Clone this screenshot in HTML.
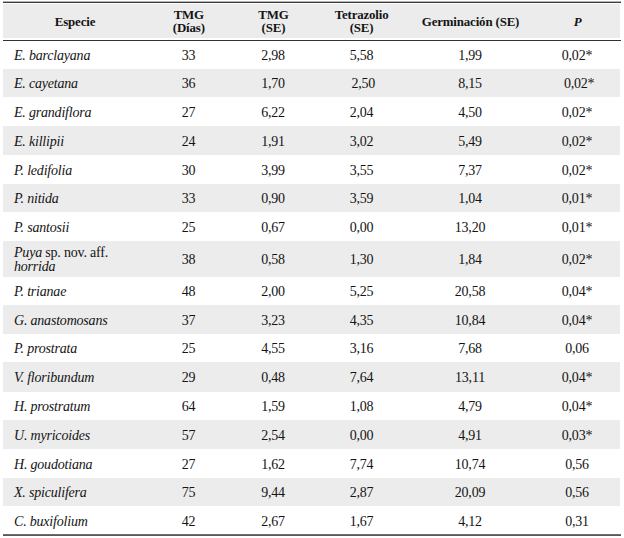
<!DOCTYPE html>
<html><head><meta charset="utf-8"><style>
html,body{margin:0;padding:0;background:#fff;width:624px;height:538px;overflow:hidden;}
body{position:relative;font-family:"Liberation Serif",serif;font-size:14px;color:#141414;}
.bg{position:absolute;background:#ececec;}
.ln{position:absolute;background:#333;}
.t{position:absolute;white-space:nowrap;line-height:15px;letter-spacing:-0.2px;font-variant-ligatures:none;}
.c{text-align:center;width:160px;}
.h{font-weight:bold;font-size:12.9px;letter-spacing:-0.15px;}
</style></head><body>

<div class="bg" style="left:3px;top:4px;width:617px;height:34px"></div>
<div class="ln" style="left:3px;top:1px;width:618px;height:1px;background:#b4b4b4"></div>
<div class="ln" style="left:3px;top:2px;width:618px;height:1px;background:#3c3c3c"></div>
<div class="ln" style="left:3px;top:40px;width:618px;height:1px"></div>
<div class="ln" style="left:3px;top:534px;width:618px;height:1px;background:#6e6e6e"></div>
<div class="ln" style="left:3px;top:535px;width:618px;height:1px;background:#5a5a5a"></div>
<div class="bg" style="left:3px;top:69px;width:617px;height:28px"></div>
<div class="bg" style="left:3px;top:126px;width:617px;height:29px"></div>
<div class="bg" style="left:3px;top:184px;width:617px;height:28px"></div>
<div class="bg" style="left:3px;top:241px;width:617px;height:36px"></div>
<div class="bg" style="left:3px;top:305px;width:617px;height:29px"></div>
<div class="bg" style="left:3px;top:362px;width:617px;height:30px"></div>
<div class="bg" style="left:3px;top:420px;width:617px;height:29px"></div>
<div class="bg" style="left:3px;top:478px;width:617px;height:28px"></div>
<div class="t" style="left:14px;top:48px"><i>E. barclayana</i></div>
<div class="t c" style="left:108.5px;top:48px">33</div>
<div class="t c" style="left:193px;top:48px">2,98</div>
<div class="t c" style="left:281.5px;top:48px">5,58</div>
<div class="t c" style="left:390px;top:48px">1,99</div>
<div class="t c" style="left:497px;top:48px">0,02*</div>
<div class="t" style="left:14px;top:76px"><i>E. cayetana</i></div>
<div class="t c" style="left:108.5px;top:76px">36</div>
<div class="t c" style="left:193px;top:76px">1,70</div>
<div class="t c" style="left:283.3px;top:76px">2,50</div>
<div class="t c" style="left:390px;top:76px">8,15</div>
<div class="t c" style="left:499.20000000000005px;top:76px">0,02*</div>
<div class="t" style="left:14px;top:105px"><i>E. grandiflora</i></div>
<div class="t c" style="left:108.5px;top:105px">27</div>
<div class="t c" style="left:193px;top:105px">6,22</div>
<div class="t c" style="left:281.5px;top:105px">2,04</div>
<div class="t c" style="left:390px;top:105px">4,50</div>
<div class="t c" style="left:497px;top:105px">0,02*</div>
<div class="t" style="left:14px;top:134px"><i>E. killipii</i></div>
<div class="t c" style="left:108.5px;top:134px">24</div>
<div class="t c" style="left:193px;top:134px">1,91</div>
<div class="t c" style="left:281.5px;top:134px">3,02</div>
<div class="t c" style="left:390px;top:134px">5,49</div>
<div class="t c" style="left:497px;top:134px">0,02*</div>
<div class="t" style="left:14px;top:163px"><i>P. ledifolia</i></div>
<div class="t c" style="left:108.5px;top:163px">30</div>
<div class="t c" style="left:193px;top:163px">3,99</div>
<div class="t c" style="left:281.5px;top:163px">3,55</div>
<div class="t c" style="left:390px;top:163px">7,37</div>
<div class="t c" style="left:497px;top:163px">0,02*</div>
<div class="t" style="left:14px;top:191px"><i>P. nitida</i></div>
<div class="t c" style="left:108.5px;top:191px">33</div>
<div class="t c" style="left:193px;top:191px">0,90</div>
<div class="t c" style="left:281.5px;top:191px">3,59</div>
<div class="t c" style="left:390px;top:191px">1,04</div>
<div class="t c" style="left:497px;top:191px">0,01*</div>
<div class="t" style="left:14px;top:220px"><i>P. santosii</i></div>
<div class="t c" style="left:108.5px;top:220px">25</div>
<div class="t c" style="left:193px;top:220px">0,67</div>
<div class="t c" style="left:281.5px;top:220px">0,00</div>
<div class="t c" style="left:390px;top:220px">13,20</div>
<div class="t c" style="left:497px;top:220px">0,01*</div>
<div class="t" style="left:14px;top:245px"><i>Puya</i> sp. nov. aff.</div>
<div class="t" style="left:14px;top:259px"><i>horrida</i></div>
<div class="t c" style="left:108.5px;top:252px">38</div>
<div class="t c" style="left:193px;top:252px">0,58</div>
<div class="t c" style="left:281.5px;top:252px">1,30</div>
<div class="t c" style="left:390px;top:252px">1,84</div>
<div class="t c" style="left:497px;top:252px">0,02*</div>
<div class="t" style="left:14px;top:284px"><i>P. trianae</i></div>
<div class="t c" style="left:108.5px;top:284px">48</div>
<div class="t c" style="left:193px;top:284px">2,00</div>
<div class="t c" style="left:281.5px;top:284px">5,25</div>
<div class="t c" style="left:390px;top:284px">20,58</div>
<div class="t c" style="left:497px;top:284px">0,04*</div>
<div class="t" style="left:14px;top:313px"><i>G. anastomosans</i></div>
<div class="t c" style="left:108.5px;top:313px">37</div>
<div class="t c" style="left:193px;top:313px">3,23</div>
<div class="t c" style="left:281.5px;top:313px">4,35</div>
<div class="t c" style="left:390px;top:313px">10,84</div>
<div class="t c" style="left:497px;top:313px">0,04*</div>
<div class="t" style="left:14px;top:341px"><i>P. prostrata</i></div>
<div class="t c" style="left:108.5px;top:341px">25</div>
<div class="t c" style="left:193px;top:341px">4,55</div>
<div class="t c" style="left:281.5px;top:341px">3,16</div>
<div class="t c" style="left:390px;top:341px">7,68</div>
<div class="t c" style="left:497px;top:341px">0,06</div>
<div class="t" style="left:14px;top:370px"><i>V. floribundum</i></div>
<div class="t c" style="left:108.5px;top:370px">29</div>
<div class="t c" style="left:193px;top:370px">0,48</div>
<div class="t c" style="left:281.5px;top:370px">7,64</div>
<div class="t c" style="left:390px;top:370px">13,11</div>
<div class="t c" style="left:497px;top:370px">0,04*</div>
<div class="t" style="left:14px;top:399px"><i>H. prostratum</i></div>
<div class="t c" style="left:108.5px;top:399px">64</div>
<div class="t c" style="left:193px;top:399px">1,59</div>
<div class="t c" style="left:281.5px;top:399px">1,08</div>
<div class="t c" style="left:390px;top:399px">4,79</div>
<div class="t c" style="left:497px;top:399px">0,04*</div>
<div class="t" style="left:14px;top:428px"><i>U. myricoides</i></div>
<div class="t c" style="left:108.5px;top:428px">57</div>
<div class="t c" style="left:193px;top:428px">2,54</div>
<div class="t c" style="left:281.5px;top:428px">0,00</div>
<div class="t c" style="left:390px;top:428px">4,91</div>
<div class="t c" style="left:497px;top:428px">0,03*</div>
<div class="t" style="left:14px;top:457px"><i>H. goudotiana</i></div>
<div class="t c" style="left:108.5px;top:457px">27</div>
<div class="t c" style="left:193px;top:457px">1,62</div>
<div class="t c" style="left:281.5px;top:457px">7,74</div>
<div class="t c" style="left:390px;top:457px">10,74</div>
<div class="t c" style="left:497px;top:457px">0,56</div>
<div class="t" style="left:14px;top:485px"><i>X. spiculifera</i></div>
<div class="t c" style="left:108.5px;top:485px">75</div>
<div class="t c" style="left:193px;top:485px">9,44</div>
<div class="t c" style="left:281.5px;top:485px">2,87</div>
<div class="t c" style="left:390px;top:485px">20,09</div>
<div class="t c" style="left:497px;top:485px">0,56</div>
<div class="t" style="left:14px;top:514px"><i>C. buxifolium</i></div>
<div class="t c" style="left:108.5px;top:514px">42</div>
<div class="t c" style="left:193px;top:514px">2,67</div>
<div class="t c" style="left:281.5px;top:514px">1,67</div>
<div class="t c" style="left:390px;top:514px">4,12</div>
<div class="t c" style="left:497px;top:514px">0,31</div>
<div class="t h c" style="left:-5px;top:15px">Especie</div>
<div class="t h c" style="left:108.80000000000001px;top:8px">TMG</div>
<div class="t h c" style="left:108.80000000000001px;top:21px">(Días)</div>
<div class="t h c" style="left:193.5px;top:8px">TMG</div>
<div class="t h c" style="left:193.5px;top:21px">(SE)</div>
<div class="t h c" style="left:281.6px;top:8px">Tetrazolio</div>
<div class="t h c" style="left:281.6px;top:21px">(SE)</div>
<div class="t h c" style="left:390.5px;top:15px">Germinación (SE)</div>
<div class="t h c" style="left:497.5px;top:15px"><i>P</i></div>
</body></html>
